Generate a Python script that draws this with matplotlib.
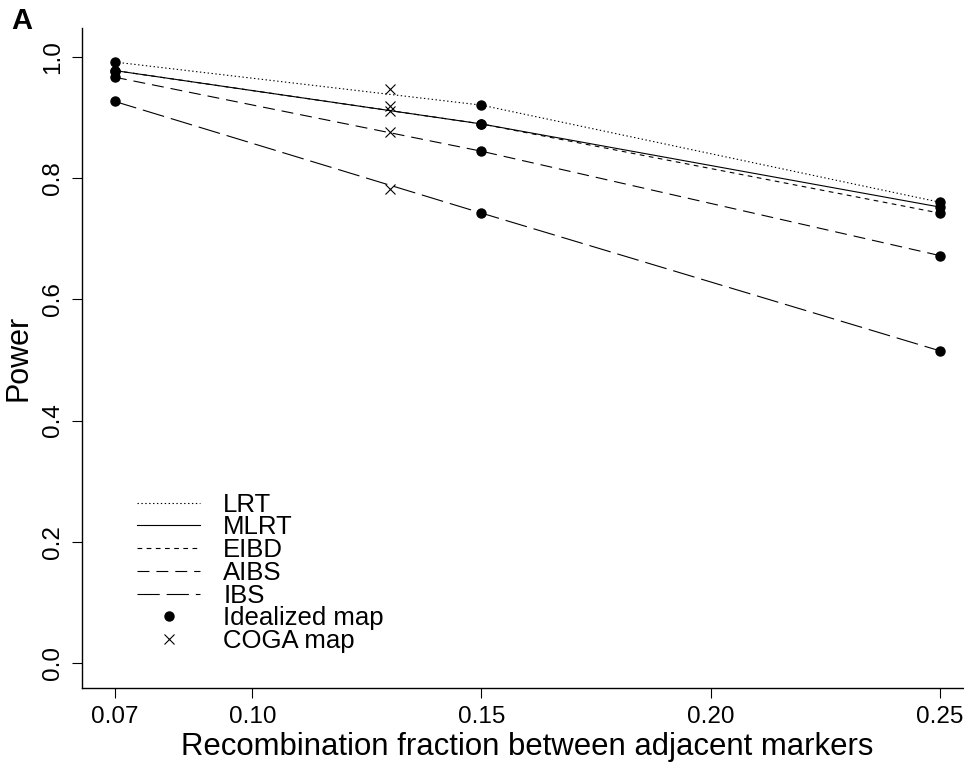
import matplotlib.pyplot as plt

plt.rcParams['font.family'] = ['Liberation Sans', 'DejaVu Sans']
plt.rcParams['lines.scale_dashes'] = False

# recombination fractions
theta_ideal = [0.07, 0.15, 0.25]
theta_coga = [0.13]

methods = ['LRT', 'MLRT', 'EIBD', 'AIBS', 'IBS']

# power, idealized map
lrt_ideal = [0.991, 0.920, 0.760]
mlrt_ideal = [0.977, 0.889, 0.752]
eibd_ideal = [0.977, 0.889, 0.742]
aibs_ideal = [0.966, 0.844, 0.672]
ibs_ideal = [0.926, 0.742, 0.515]

# power, COGA map
lrt_coga = [0.947]
mlrt_coga = [0.911]
eibd_coga = [0.919]
aibs_coga = [0.876]
ibs_coga = [0.782]

x_ticks = [0.07, 0.10, 0.15, 0.20, 0.25]
x_tick_labels = ['0.07', '0.10', '0.15', '0.20', '0.25']
y_ticks = [0.0, 0.2, 0.4, 0.6, 0.8, 1.0]
y_tick_labels = ['0.0', '0.2', '0.4', '0.6', '0.8', '1.0']

ideal = [lrt_ideal, mlrt_ideal, eibd_ideal, aibs_ideal, ibs_ideal]
coga = [lrt_coga, mlrt_coga, eibd_coga, aibs_coga, ibs_coga]
# dash patterns in points: dotted, solid, short, medium, long
dashes = [(1.0, 1.8), None, (3.4, 3.2), (8.6, 5.0), (16.0, 5.0)]

fig = plt.figure(figsize=(9.64, 7.70), dpi=100)
ax = fig.add_axes([0.085, 0.1065, 0.924, 0.857])

handles = []
for name, yi, yc, d in zip(methods, ideal, coga, dashes):
    line, = ax.plot(theta_ideal, yi, color='black', lw=0.8, label=name)
    if d is not None:
        line.set_dashes(d)
    handles.append(line)
    ax.plot(theta_ideal, yi, 'o', color='black', ms=6.5, ls='none')
    ax.plot(theta_coga, yc, 'x', color='black', ms=6.5, mew=0.8, ls='none')

h_ideal, = ax.plot([], [], 'o', color='black', ms=6.5, ls='none', label='Idealized map')
h_coga, = ax.plot([], [], 'x', color='black', ms=6.5, mew=0.8, ls='none', label='COGA map')
handles += [h_ideal, h_coga]

ax.set_xlim(0.0628, 0.2572)
ax.set_ylim(-0.041, 1.047)

ax.spines['top'].set_visible(False)
ax.spines['right'].set_visible(False)
ax.spines['left'].set_linewidth(1.0)
ax.spines['bottom'].set_linewidth(1.0)

ax.set_xticks(x_ticks)
ax.set_xticklabels(x_tick_labels, fontsize=17.5)
ax.set_yticks(y_ticks)
ax.set_yticklabels(y_tick_labels, fontsize=17.5, rotation=90, va='center')
ax.tick_params(direction='out', length=7, width=0.8, pad=6)

ax.set_xlabel('Recombination fraction between adjacent markers', fontsize=22.4, labelpad=3)
ax.set_ylabel('Power', fontsize=22, labelpad=6)

ax.legend(handles=handles, loc='upper left', bbox_to_anchor=(0.062, 0.296),
          frameon=False, fontsize=18.5, labelspacing=-0.05, handlelength=2.45,
          handletextpad=0.9, borderpad=0, borderaxespad=0)

fig.text(0.012, 0.962, 'A', fontsize=21, fontweight='bold')

fig.savefig('out.png', dpi=100)
